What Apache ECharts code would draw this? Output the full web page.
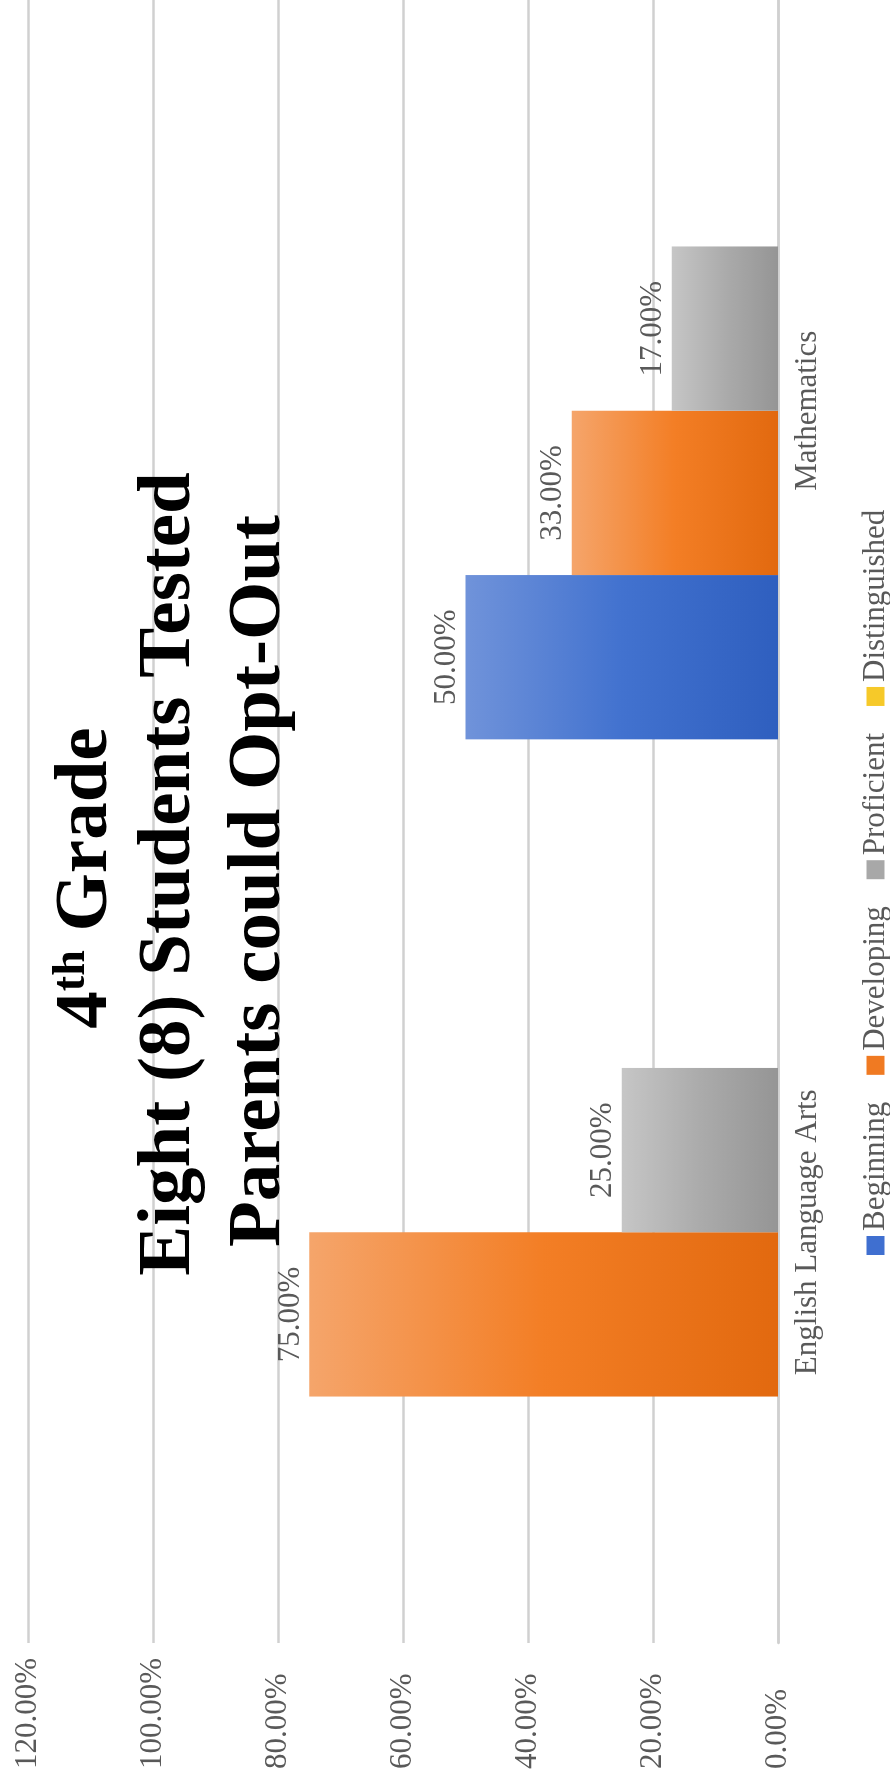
<!DOCTYPE html>
<html><head><meta charset="utf-8">
<script src="https://cdn.jsdelivr.net/npm/echarts@6/dist/echarts.min.js"></script>
<style>
html,body{margin:0;padding:0;background:#fff;overflow:hidden;width:890px;height:1786px;}
#chart{position:absolute;left:0;top:0;width:1786px;height:890px;transform-origin:0 0;transform:translate(0,1786px) rotate(-90deg);}
</style></head><body><div id="chart"></div>
<script>
const categories = ['English Language Arts', 'Mathematics'];
const seriesNames = ['Beginning', 'Developing', 'Proficient', 'Distinguished'];
const beginning = [0, 50];
const developing = [75, 33];
const proficient = [25, 17];
const distinguished = [0, 0];
const valueTicks = [0, 20, 40, 60, 80, 100, 120];
const titleLine1 = ['4', 'th', ' Grade'];
const titleLine2 = 'Eight (8) Students Tested';
const titleLine3 = 'Parents could Opt-Out';

const SERIF = "'Liberation Serif', 'Times New Roman', serif";
const grad = (a, b, c) => ({type: 'linear', x: 0, y: 0, x2: 0, y2: 1,
  colorStops: [{offset: 0, color: a}, {offset: 0.5, color: b}, {offset: 1, color: c}]});
const colors = [
  grad('#7093da', '#4272cf', '#2f5fbf'),
  grad('#f5a56b', '#f37e25', '#e2690f'),
  grad('#c6c6c6', '#ababab', '#959595'),
  grad('#ffd966', '#ffc000', '#e6a800')
];
const legendColors = ['#3f6fd0', '#f07a22', '#a8a8a8', '#f6c929'];
const values = [beginning, developing, proficient, distinguished];

const chart = echarts.init(document.getElementById('chart'), null, {renderer: 'canvas'});
const labelStyle = {color: '#595959', fontFamily: SERIF, fontSize: 31};
const titleFont = {fontFamily: SERIF, fontWeight: 'bold', fontSize: 75, lineHeight: 75, color: '#000'};
chart.setOption({
  backgroundColor: '#ffffff',
  animation: false,
  title: [
    {text: '{n|' + titleLine1[0] + '}{s|' + titleLine1[1] + '}{n|' + titleLine1[2] + '}',
     left: 908, top: 49, padding: 0, textAlign: 'center',
     textStyle: {rich: {
       n: titleFont,
       s: {fontFamily: SERIF, fontWeight: 'bold', fontSize: 46, lineHeight: 43, verticalAlign: 'top', color: '#000'}
     }}},
    {text: titleLine2, left: 912, top: 132, padding: 0, textAlign: 'center', textStyle: titleFont},
    {text: titleLine3, left: 905, top: 222, padding: 0, textAlign: 'center', textStyle: titleFont}
  ],
  legend: {
    data: seriesNames.map((n, i) => ({name: n, itemStyle: {color: legendColors[i]}})),
    left: 531, top: 860, padding: 0, icon: 'rect', itemWidth: 19, itemHeight: 18, itemGap: 27,
    textStyle: labelStyle
  },
  grid: {left: 143, right: 0, top: 28, bottom: 112, containLabel: false},
  xAxis: {
    type: 'category', data: categories,
    axisLine: {show: true, lineStyle: {color: '#d0d0d0', width: 2.5}},
    axisTick: {show: false},
    axisLabel: Object.assign({margin: 14}, labelStyle)
  },
  yAxis: {
    type: 'value', min: valueTicks[0], max: valueTicks[valueTicks.length - 1], interval: 20,
    axisLine: {show: false}, axisTick: {show: false},
    splitLine: {lineStyle: {color: '#d0d0d0', width: 2.5}},
    axisLabel: Object.assign({margin: 126, align: 'left', formatter: v => v.toFixed(2) + '%'}, labelStyle)
  },
  series: seriesNames.map((name, i) => ({
    name, type: 'bar', data: values[i],
    barGap: '0%', barCategoryGap: '20%',
    itemStyle: {color: colors[i]},
    label: Object.assign({show: true, position: 'top', distance: 3,
      formatter: p => p.value ? p.value.toFixed(2) + '%' : ''}, labelStyle)
  }))
});
</script></body></html>
